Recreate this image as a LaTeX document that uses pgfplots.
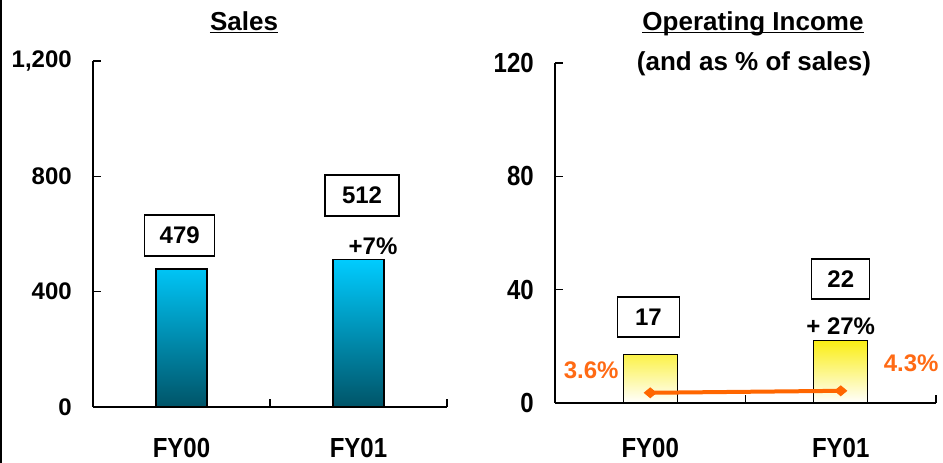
\documentclass[border=0pt]{standalone}
\usepackage{pgfplots}
\pgfplotsset{compat=1.18}
\usepackage{fontspec}
\setmainfont{Liberation Sans}

\definecolor{cyantop}{RGB}{0,204,255}
\definecolor{cyanmid}{RGB}{0,160,200}
\definecolor{tealbot}{RGB}{0,84,104}
\definecolor{yellowtop}{RGB}{250,238,20}
\definecolor{orangeline}{RGB}{255,102,0}
\definecolor{orangetext}{RGB}{255,106,20}

% tall bold labels under the categories and on the right-hand scale
\newcommand{\tall}[1]{\scalebox{1}[1.15]{#1}}

\pgfplotsset{
  panel/.style={
    scale only axis, anchor=south west, clip=false,
    axis x line=bottom, axis y line=left,
    axis line style={-, line width=1.2pt, black},
    xmin=-0.5, xmax=1.5, ymin=0,
    tick align=inside,
    major tick length=6pt,
    every tick/.style={line width=1.2pt, black},
    xtick={0.5,1.5}, xticklabels={},
    extra x ticks={0,1}, extra x tick labels={\tall{FY00},\tall{FY01}},
    extra x tick style={major tick length=0pt},
    /pgf/number format/assume math mode=true,
    ticklabel style={font=\bfseries\fontsize{18}{21}\selectfont, inner sep=0pt},
    yticklabel style={xshift=-15.75pt},
  },
}
\tikzset{
  valbox/.style={draw=black, line width=1pt, inner sep=0pt, fill=white,
    font=\bfseries\fontsize{18}{21}\selectfont},
}

\begin{document}
\begin{tikzpicture}[font=\bfseries\fontsize{18}{21}\selectfont]
\useasboundingbox (0,0) rectangle (707.25pt,347.25pt);
\fill[black] (0,0) rectangle (1.5pt,347.25pt);

% ---------------- Sales ----------------
\node[inner sep=0pt, anchor=base, font=\bfseries\fontsize{19.5}{22}\selectfont] (t1) at (183pt,324.4pt) {Sales};
\draw[line width=1.3pt] ([yshift=-1.6pt]t1.base west) -- ([yshift=-1.6pt]t1.base east);

\begin{axis}[panel, at={(69.75pt,42pt)}, width=265.5pt, height=259.5pt,
  ymax=1200, ytick={0,400,800,1200}, yticklabels={0,400,800,{1,200}},
  xticklabel style={yshift=-23.5pt}]
  \addplot[ybar, bar width=38.25pt, draw=black, line width=1pt,
    top color=cyantop, middle color=cyanmid, bottom color=tealbot] coordinates {(0,479) (1,512)};
  \node[valbox, minimum width=52.5pt, minimum height=30.75pt] at (axis cs:-0.01,595) {479};
  \node[valbox, minimum width=55.5pt, minimum height=30.75pt] at (axis cs:1.02,733) {512};
  \node at (axis cs:1.082,558) {+7\%};
\end{axis}

% ---------------- Operating income ----------------
\node[inner sep=0pt, anchor=base, font=\bfseries\fontsize{19.5}{22}\selectfont] (t2) at (564.75pt,324.4pt) {Operating Income};
\draw[line width=1.3pt] ([yshift=-1.6pt]t2.base west) -- ([yshift=-1.6pt]t2.base east);
\node[inner sep=0pt, anchor=base, font=\bfseries\fontsize{19.5}{22}\selectfont] at (565.5pt,294.4pt) {(and as \% of sales)};

\begin{axis}[panel, at={(416.25pt,45pt)}, width=285.75pt, height=255pt,
  ymax=120, ytick={0,40,80,120},
  yticklabels={\tall{0},\tall{40},\tall{80},\tall{120}},
  xticklabel style={yshift=-26.25pt}]
  \addplot[ybar, bar width=40.5pt, draw=black, line width=1pt,
    top color=yellowtop, middle color=yellowtop!50!white, bottom color=white] coordinates {(0,17) (1,22)};
  \addplot[color=orangeline, line width=3pt, mark=diamond*, mark size=3.6pt,
    mark options={fill=orangeline, line width=0.8pt, xscale=1.6}] coordinates {(0,3.6) (1,4.3)};
  \node[valbox, minimum width=46.5pt, minimum height=30pt] at (axis cs:-0.01,30.4) {17};
  \node[valbox, minimum width=43.5pt, minimum height=30pt] at (axis cs:1.0,43.8) {22};
  \node at (axis cs:1.0,27.2) {+ 27\%};
  \node[text=orangetext] at (axis cs:-0.31,11.6) {3.6\%};
  \node[text=orangetext] at (axis cs:1.37,14.1) {4.3\%};
\end{axis}
\end{tikzpicture}
\end{document}
